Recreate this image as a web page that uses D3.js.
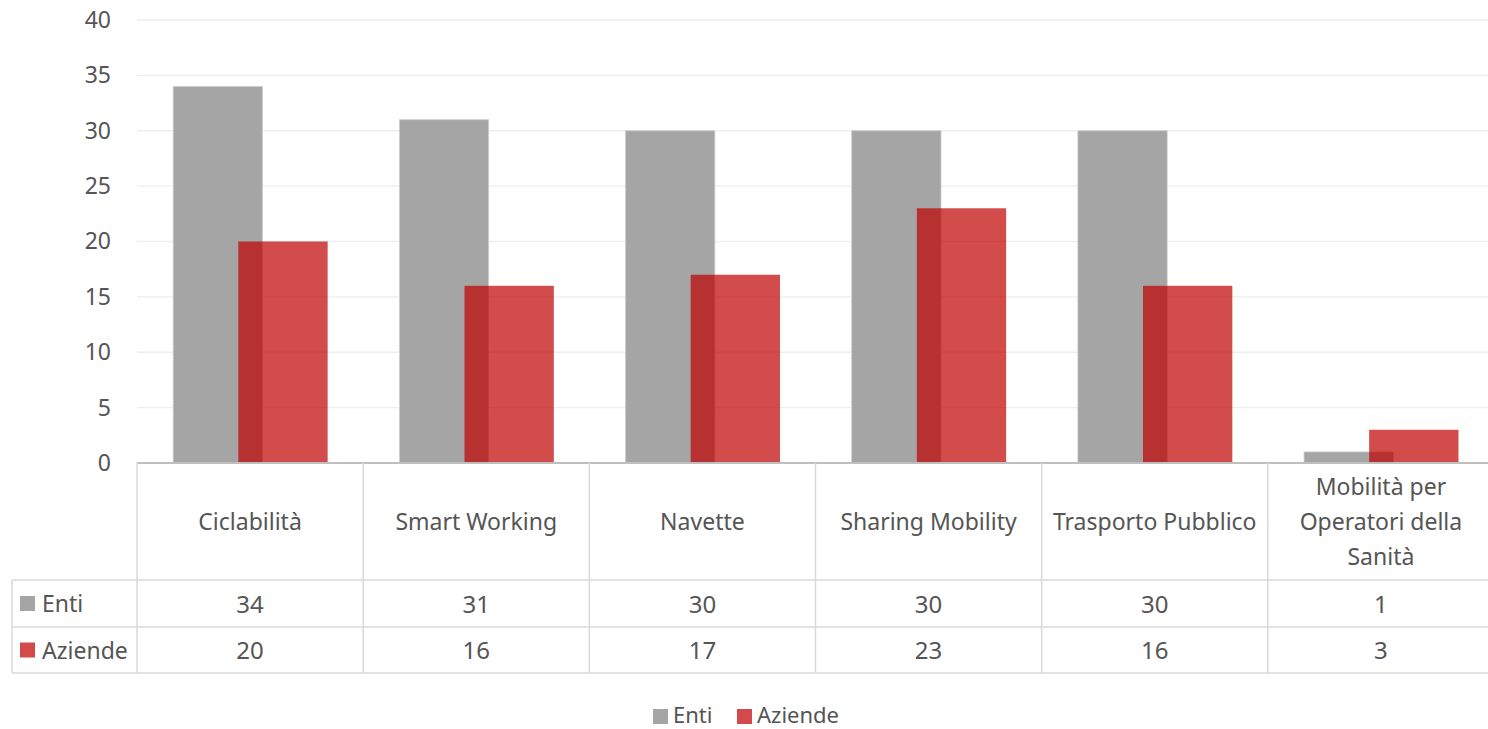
<!DOCTYPE html>
<html>
<head>
<meta charset="utf-8">
<script src="https://cdn.jsdelivr.net/npm/d3@7"></script>
<style>
  body { margin: 0; background: #fff; }
  text { font-family: "Noto Sans", "Open Sans", sans-serif; fill: #555555; }
</style>
</head>
<body>
<div id="chart"></div>
<script>
// data
var categories = ["Ciclabilità", "Smart Working", "Navette", "Sharing Mobility", "Trasporto Pubblico", "Mobilità per Operatori della Sanità"];
var catLines = [["Ciclabilità"], ["Smart Working"], ["Navette"], ["Sharing Mobility"], ["Trasporto Pubblico"], ["Mobilità per", "Operatori della", "Sanità"]];
var series = ["Enti", "Aziende"];
var enti = [34, 31, 30, 30, 30, 1];
var aziende = [20, 16, 17, 23, 16, 3];
var yTicks = [0, 5, 10, 15, 20, 25, 30, 35, 40];

var w = 1488, h = 729;
var plot = {left: 137, right: 1494, top: 20, bottom: 463};
var rows = {header: 580, enti: 627, aziende: 673, tableLeft: 12};

var svg = d3.select("#chart").append("svg")
  .attr("width", w)
  .attr("height", h);

var x = d3.scaleBand()
  .domain(categories)
  .range([plot.left, plot.right])
  .padding(0);

var y = d3.scaleLinear()
  .domain([0, 40])
  .range([plot.bottom, plot.top]);

var bw = x.bandwidth();

// gridlines
svg.append("g")
  .selectAll("line")
  .data(yTicks.slice(1))
  .enter()
  .append("line")
    .attr("x1", plot.left)
    .attr("x2", plot.right)
    .attr("y1", function(d) { return y(d); })
    .attr("y2", function(d) { return y(d); })
    .attr("stroke", "#eeeeee")
    .attr("stroke-width", 1.3);

// y axis labels
var yAxis = d3.axisLeft(y).tickValues(yTicks).tickSize(0).tickPadding(26);
var gy = svg.append("g")
  .attr("transform", "translate(" + plot.left + ",0)")
  .call(yAxis);
gy.select(".domain").remove();
gy.selectAll("text")
  .attr("font-size", "23px")
  .attr("font-family", "Noto Sans")
  .attr("fill", "#555555");

// bars
svg.append("g")
  .selectAll("rect")
  .data(categories)
  .enter()
  .append("rect")
    .attr("x", function(d) { return x(d) + bw * 0.16; })
    .attr("y", function(d, i) { return y(enti[i]); })
    .attr("width", bw * 0.395)
    .attr("height", function(d, i) { return y(0) - y(enti[i]); })
    .attr("fill", "#a5a5a5")
    .attr("stroke", "#cfcfcf")
    .attr("stroke-width", 0.8);

svg.append("g")
  .selectAll("rect")
  .data(categories)
  .enter()
  .append("rect")
    .attr("x", function(d) { return x(d) + bw * 0.448; })
    .attr("y", function(d, i) { return y(aziende[i]); })
    .attr("width", bw * 0.395)
    .attr("height", function(d, i) { return y(0) - y(aziende[i]); })
    .attr("fill", "#c00000")
    .attr("fill-opacity", 0.7);

// table
var tcol = "#d9d9d9";
var table = svg.append("g");

// axis line
table.append("line")
  .attr("x1", plot.left).attr("x2", plot.right)
  .attr("y1", plot.bottom).attr("y2", plot.bottom)
  .attr("stroke", "#bfbfbf").attr("stroke-width", 2);

[rows.header, rows.enti, rows.aziende].forEach(function(yy) {
  table.append("line")
    .attr("x1", rows.tableLeft).attr("x2", plot.right)
    .attr("y1", yy).attr("y2", yy)
    .attr("stroke", tcol).attr("stroke-width", 1.5);
});

table.selectAll(".vline")
  .data(categories)
  .enter()
  .append("line")
    .attr("class", "vline")
    .attr("x1", function(d) { return x(d); })
    .attr("x2", function(d) { return x(d); })
    .attr("y1", plot.bottom)
    .attr("y2", rows.aziende)
    .attr("stroke", tcol).attr("stroke-width", 1.5);

table.append("line")
  .attr("x1", rows.tableLeft).attr("x2", rows.tableLeft)
  .attr("y1", rows.header).attr("y2", rows.aziende)
  .attr("stroke", tcol).attr("stroke-width", 1.5);

// category labels
var lineH = 35;
table.selectAll(".cat")
  .data(catLines)
  .enter()
  .append("text")
    .attr("class", "cat")
    .attr("text-anchor", "middle")
    .attr("font-size", "23px")
    .attr("x", function(d, i) { return x(categories[i]) + bw / 2; })
    .attr("y", function(d) { return 530 - (d.length - 1) * lineH / 2; })
    .selectAll("tspan")
    .data(function(d) { return d; })
    .enter()
    .append("tspan")
      .attr("x", function() { return d3.select(this.parentNode).attr("x"); })
      .attr("dy", function(d, i) { return i === 0 ? 0 : lineH; })
      .text(function(d) { return d; });

// value rows
var rowData = [
  {name: "Enti", values: enti, color: "#a5a5a5", mid: (rows.header + rows.enti) / 2},
  {name: "Aziende", values: aziende, color: "#d44a4c", mid: (rows.enti + rows.aziende) / 2}
];

rowData.forEach(function(r) {
  table.append("rect")
    .attr("x", 20).attr("y", r.mid - 7.5)
    .attr("width", 15).attr("height", 15)
    .attr("fill", r.color);
  table.append("text")
    .attr("x", 42).attr("y", r.mid + 8.5)
    .attr("font-size", "23px")
    .text(r.name);
  table.selectAll(".v" + r.name)
    .data(r.values)
    .enter()
    .append("text")
      .attr("text-anchor", "middle")
      .attr("font-size", "24px")
      .attr("x", function(d, i) { return x(categories[i]) + bw / 2; })
      .attr("y", r.mid + 9)
      .text(function(d) { return d; });
});

// legend
var legend = svg.append("g");
var legendItems = [
  {name: "Enti", color: "#a5a5a5", x: 653},
  {name: "Aziende", color: "#d44a4c", x: 737}
];
legendItems.forEach(function(l) {
  legend.append("rect")
    .attr("x", l.x).attr("y", 709)
    .attr("width", 15).attr("height", 15)
    .attr("fill", l.color);
  legend.append("text")
    .attr("x", l.x + 20).attr("y", 723)
    .attr("font-size", "22px")
    .text(l.name);
});
</script>
</body>
</html>
